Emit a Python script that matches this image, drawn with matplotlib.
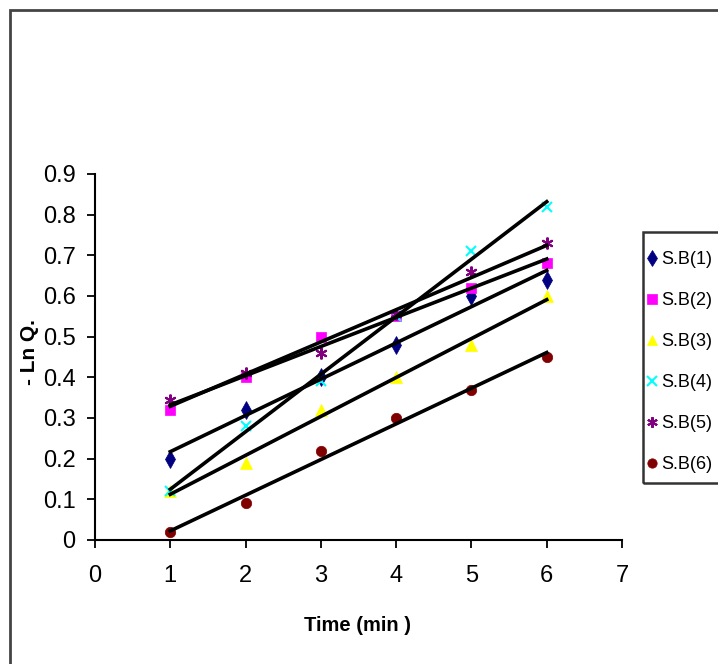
import numpy as np
import matplotlib
matplotlib.use("Agg")
import matplotlib.pyplot as plt
from matplotlib.patches import Rectangle

plt.rcParams['font.family'] = ['Liberation Sans', 'DejaVu Sans']

# data
time = [1, 2, 3, 4, 5, 6]
sb1 = [0.20, 0.32, 0.40, 0.48, 0.60, 0.64]
sb2 = [0.32, 0.40, 0.50, 0.55, 0.62, 0.68]
sb3 = [0.12, 0.19, 0.32, 0.40, 0.48, 0.60]
sb4 = [0.12, 0.28, 0.39, 0.55, 0.71, 0.82]
sb5 = [0.345, 0.41, 0.46, 0.555, 0.66, 0.73]
sb6 = [0.02, 0.09, 0.22, 0.30, 0.37, 0.45]
labels = ['S.B(1)', 'S.B(2)', 'S.B(3)', 'S.B(4)', 'S.B(5)', 'S.B(6)']
xticks = [0, 1, 2, 3, 4, 5, 6, 7]
yticks = [0, 0.1, 0.2, 0.3, 0.4, 0.5, 0.6, 0.7, 0.8, 0.9]
yticklabels = ['0', '0.1', '0.2', '0.3', '0.4', '0.5', '0.6', '0.7', '0.8', '0.9']

series = [sb1, sb2, sb3, sb4, sb5, sb6]
colors = ['#000080', '#FF00FF', '#FFFF00', '#00FFFF', '#800080', '#800000']
markers = ['d', 's', '^', 'x', (6, 2, 0), 'o']
msizes = [9, 7.5, 8.5, 7.5, 8.5, 7.5]

fig = plt.figure(figsize=(7.18, 6.64), dpi=100)
ax = fig.add_axes([95/718, 1-540/664, 527/718, 366/664])

x = np.array(time)
handles = []
for ys, c, m, ms, lab in zip(series, colors, markers, msizes, labels):
    h, = ax.plot(x, ys, linestyle='none', marker=m, color=c, markersize=ms,
                 markeredgewidth=1.5 if m in ('x',) or isinstance(m, tuple) else 0.5,
                 label=lab, zorder=3)
    handles.append(h)
# linear trend lines
for ys in series:
    k, b = np.polyfit(x, ys, 1)
    ax.plot([x[0], x[-1]], [k*x[0]+b, k*x[-1]+b], color='black', lw=2.6, zorder=4)

ax.set_xlim(0, 7)
ax.set_ylim(0, 0.9)
ax.set_xticks(xticks)
ax.set_yticks(yticks)
ax.set_yticklabels(yticklabels)
for s in ['top', 'right']:
    ax.spines[s].set_visible(False)
for s in ['left', 'bottom']:
    ax.spines[s].set_linewidth(1.5)
ax.tick_params(direction='out', length=6, width=1.3, labelsize=17, pad=8)
ax.tick_params(axis='x', pad=12)

ax.set_xlabel('Time (min )', fontsize=14.5, fontweight='bold')
ax.xaxis.set_label_coords(0.499, -0.208)
ax.set_ylabel('- Ln Q.', fontsize=15, fontweight='bold')
ax.yaxis.set_label_coords(-0.106, 0.514)

# legend entries without frame; frame drawn separately so padding can differ
leg = fig.legend(handles=handles, loc='upper left', bbox_to_anchor=(647/718, 1-251/664),
                 fontsize=13, frameon=False, borderpad=0,
                 labelspacing=1.33, handlelength=0.5, handletextpad=0.3, borderaxespad=0,
                 markerscale=0.9)
fig.patches.append(Rectangle((643/718, 1-483/664), 0.2, (483-232)/664, transform=fig.transFigure,
                             fill=False, edgecolor='#333333', linewidth=1.8))

# outer chart-area border (cropped at right and bottom)
fig.patches.append(Rectangle((9.5/718, -0.2), 1.2, 0.2 + 1-9.5/664, transform=fig.transFigure,
                             fill=False, edgecolor='#444444', linewidth=2))

fig.savefig('out.png', dpi=100)
